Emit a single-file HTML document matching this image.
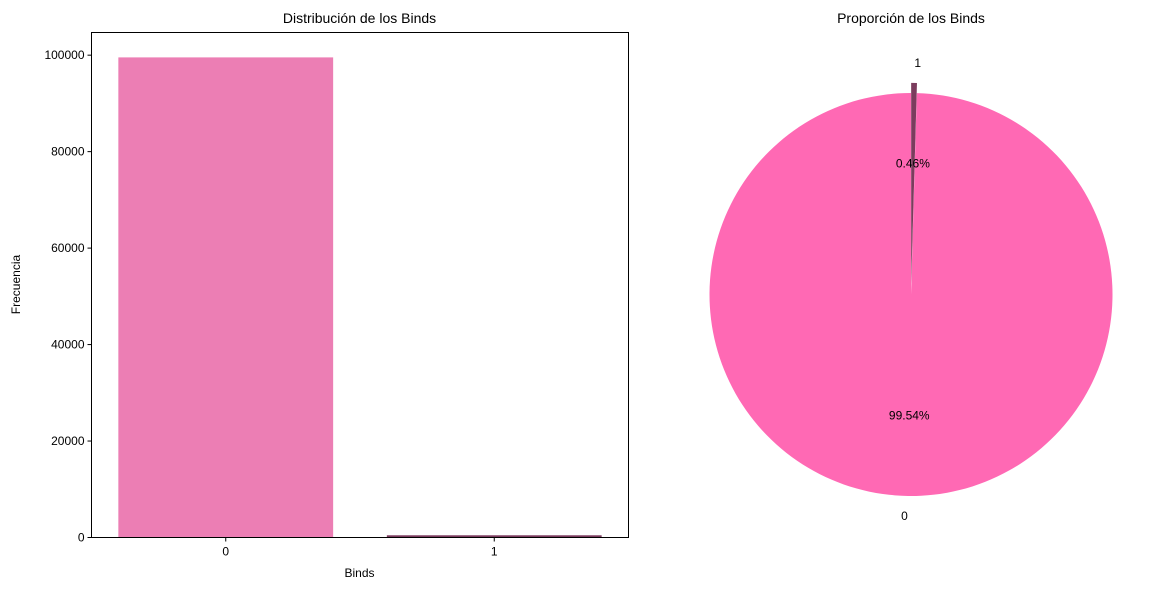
<!DOCTYPE html>
<html><head><meta charset="utf-8">
<style>
body{margin:0;background:#fff;}
svg{display:block;font-family:"Liberation Sans","DejaVu Sans",sans-serif;}
</style></head>
<body>
<svg id="chart" width="1173" height="590" viewBox="0 0 1173 590">
<text x="359.5" y="23" font-size="14" text-anchor="middle">Distribución de los Binds</text>
<text x="911" y="23" font-size="14" text-anchor="middle">Proporción de los Binds</text>
<text x="359.5" y="577" font-size="12" text-anchor="middle">Binds</text>
<text x="0" y="0" font-size="12" text-anchor="middle" transform="translate(20,284.5) rotate(-90)">Frecuencia</text>
<g id="bars"></g><g id="yticks"></g><g id="xticks"></g><g id="pie"></g>
<rect x="91.5" y="32.5" width="537" height="505" fill="none" stroke="#000" stroke-width="1"/>
</svg>
<script>
const categories = ["0", "1"];
const counts = [99540, 460];
const yTicks = [0, 20000, 40000, 60000, 80000, 100000];
const barColors = ["#ec7eb4", "#7b3c5e"];
const pieLabels = ["0", "1"];
const pieValues = [99.54, 0.46];
const pieColors = ["#ff69b4", "#7b3c5e"];
const pieExplode = [0, 0.05];

const NS = "http://www.w3.org/2000/svg";
function mk(tag, attrs, parent, text){const e=document.createElementNS(NS,tag);for(const k in attrs)e.setAttribute(k,attrs[k]);if(text!==undefined)e.textContent=text;parent.appendChild(e);return e;}
const L=91.5,R=628.5,T=32.5,B=537.5;
const yMax=104700;
const y=v=>B-(v/yMax)*(B-T);
const band=(R-L)/categories.length;
const x=i=>L+band*(i+0.5);
const bw=band*0.8;
const gB=document.getElementById('bars'),gY=document.getElementById('yticks'),gX=document.getElementById('xticks'),gP=document.getElementById('pie');
counts.forEach((c,i)=>{
  const r=mk('rect',{x:x(i)-bw/2,y:y(c),width:bw,height:B-y(c),fill:barColors[i]},gB);
  
  
  const t=mk('line',{x1:x(i),x2:x(i),y1:B,y2:B+4,stroke:'#000'},gX);
  
  
  const l=mk('text',{x:x(i),y:B+18,'font-size':12,'text-anchor':'middle'},gX,categories[i]);
  
  
});
yTicks.forEach(v=>{
  const t=mk('line',{x1:L-4,x2:L,y1:y(v),y2:y(v),stroke:'#000'},gY);
  
  
  const l=mk('text',{x:L-7,y:y(v)+4,'font-size':12,'text-anchor':'end'},gY,String(v));
  
  
});
const cx=911,cy=294.5,rad=201.5;
const total=pieValues.reduce((a,b)=>a+b,0);
let ang=90;
pieValues.forEach((v,i)=>{
  const sweep=v/total*360;
  const a0=ang*Math.PI/180,a1=(ang+sweep)*Math.PI/180,mid=(a0+a1)/2;
  const off=pieExplode[i]*rad;
  const ox=cx+off*Math.cos(mid),oy=cy-off*Math.sin(mid);
  const p1=[ox+rad*Math.cos(a0),oy-rad*Math.sin(a0)],p2=[ox+rad*Math.cos(a1),oy-rad*Math.sin(a1)];
  const large=sweep>180?1:0;
  const d=`M${ox},${oy} L${p1[0]},${p1[1]} A${rad},${rad} 0 ${large} 0 ${p2[0]},${p2[1]} Z`;
  const s=mk('path',{d:d,fill:pieColors[i]},gP);
  
  
  const lr=rad*1.1+off;
  const lx=cx+lr*Math.cos(mid);
  const anchor=Math.cos(mid)>0?'start':'end';
  const lb=mk('text',{x:lx,y:cy-lr*Math.sin(mid)+4,'font-size':12,'text-anchor':anchor},gP,pieLabels[i]);
  
  
  const pr=rad*0.6+off;
  const pc=mk('text',{x:cx+pr*Math.cos(mid),y:cy-pr*Math.sin(mid)+4,'font-size':12,'text-anchor':'middle'},gP,v.toFixed(2)+'%');
  
  
  ang+=sweep;
});
</script>
</body></html>
